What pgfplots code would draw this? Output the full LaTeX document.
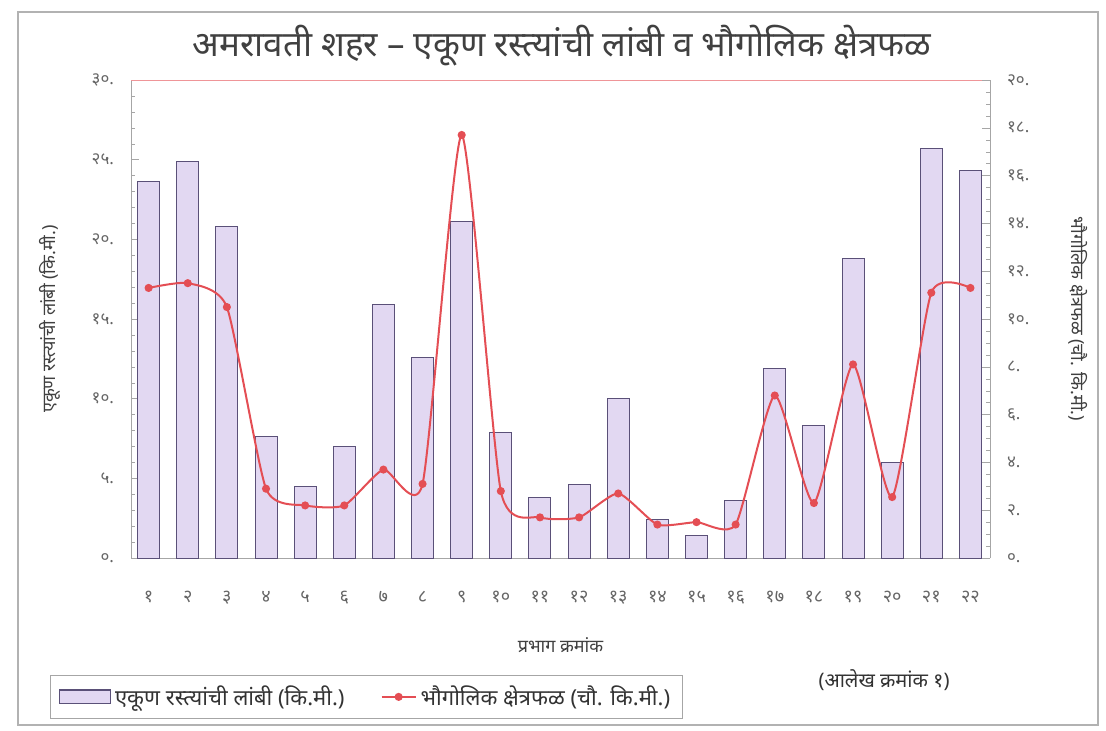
\documentclass[border=0pt]{standalone}
\usepackage{pgfplots}
\pgfplotsset{compat=1.18}
\usepackage{fontspec}
\setmainfont[Script=Devanagari]{Noto Sans}
\definecolor{barfill}{RGB}{226,216,242}
\definecolor{baredge}{RGB}{90,80,120}
\definecolor{linered}{RGB}{228,78,84}
\begin{document}
\begin{tikzpicture}
\path[use as bounding box] (0pt,0pt) rectangle (553pt,365pt);
\draw[gray!60, line width=0.6pt] (9pt,2.5pt) rectangle (549pt,359pt);
\node[font=\fontsize{17.5}{19}\selectfont, text=black!75] at (281pt,342pt) {अमरावती शहर – एकूण रस्त्यांची लांबी व भौगोलिक क्षेत्रफळ};
\begin{axis}[
  at={(65.5pt,86pt)}, anchor=south west,
  scale only axis, width=429.5pt, height=239pt,
  xmin=0.55, xmax=22.5, ymin=0, ymax=30,
  axis y line*=left, axis x line*=bottom,
  axis line style={gray!70},
  xtick={1,...,22},
  xticklabels={१,२,३,४,५,६,७,८,९,१०,११,१२,१३,१४,१५,१६,१७,१८,१९,२०,२१,२२},
  ytick={0,5,...,30},
  yticklabels={०.,५.,१०.,१५.,२०.,२५.,३०.},
  minor y tick num=4,
  tick style={gray!70},
  major tick length=4pt, minor tick length=2pt,
  x tick label style={font=\fontsize{9}{10}\selectfont, text=black!60, yshift=-13pt},
  y tick label style={font=\fontsize{8.5}{10}\selectfont, text=black!60, xshift=-5pt},
  xlabel={प्रभाग क्रमांक},
  xlabel style={font=\fontsize{9}{10}\selectfont, text=black!75, yshift=-10pt},
  ylabel={एकूण रस्त्यांची लांबी (कि.मी.)},
  ylabel style={font=\fontsize{9}{10}\selectfont, text=black!75, yshift=9pt},
  clip=false,
]
\addplot[ybar, bar width=11pt, fill=barfill, draw=baredge, line width=0.5pt]
coordinates {(1,23.6) (2,24.9) (3,20.8) (4,7.6) (5,4.5) (6,7.0) (7,15.9) (8,12.6) (9,21.1) (10,7.9) (11,3.8) (12,4.6) (13,10.0) (14,2.4) (15,1.4) (16,3.6) (17,11.9) (18,8.3) (19,18.8) (20,6.0) (21,25.7) (22,24.3)};
\draw[linered!60, line width=0.5pt] (rel axis cs:0,1) -- (rel axis cs:1,1);
\end{axis}
\begin{axis}[
  at={(65.5pt,86pt)}, anchor=south west,
  scale only axis, width=429.5pt, height=239pt,
  xmin=0.55, xmax=22.5, ymin=0, ymax=20,
  axis y line*=right, axis x line=none,
  axis line style={gray!70},
  ytick={0,2,...,20},
  yticklabels={०.,२.,४.,६.,८.,१०.,१२.,१४.,१६.,१८.,२०.},
  minor y tick num=3,
  tick style={gray!70},
  major tick length=4pt, minor tick length=2pt,
  y tick label style={font=\fontsize{8.5}{10}\selectfont, text=black!60, xshift=5pt},
  ylabel={भौगोलिक क्षेत्रफळ (चौ. कि.मी.)},
  ylabel style={font=\fontsize{9}{10}\selectfont, text=black!75, rotate=180, yshift=13pt},
  legend style={at={(-0.094,-0.245)}, anchor=north west, legend columns=2,
    draw=gray!70, font=\fontsize{11}{12}\selectfont, text=black!80,
    inner ysep=3pt, inner xsep=4pt,
    /tikz/every even column/.append style={column sep=16pt}},
  clip=false,
]
\addlegendimage{legend image code/.code={\draw[fill=barfill, draw=baredge, line width=0.6pt] (0cm,-0.12cm) rectangle (0.9cm,0.12cm);}}
\addlegendentry{एकूण रस्त्यांची लांबी (कि.मी.)}
\addplot[linered, line width=1pt, smooth, tension=0.35, mark=*, mark size=1.5pt, mark options={fill=linered}]
coordinates {(1,11.3) (2,11.5) (3,10.5) (4,2.9) (5,2.2) (6,2.2) (7,3.7) (8,3.1) (9,17.7) (10,2.8) (11,1.7) (12,1.7) (13,2.7) (14,1.4) (15,1.5) (16,1.4) (17,6.8) (18,2.3) (19,8.1) (20,2.55) (21,11.1) (22,11.3)};
\addlegendentry{भौगोलिक क्षेत्रफळ (चौ. कि.मी.)}
\end{axis}
\node[font=\fontsize{10}{12}\selectfont, text=black!80] at (442pt,25pt) {(आलेख क्रमांक १)};
\end{tikzpicture}
\end{document}
